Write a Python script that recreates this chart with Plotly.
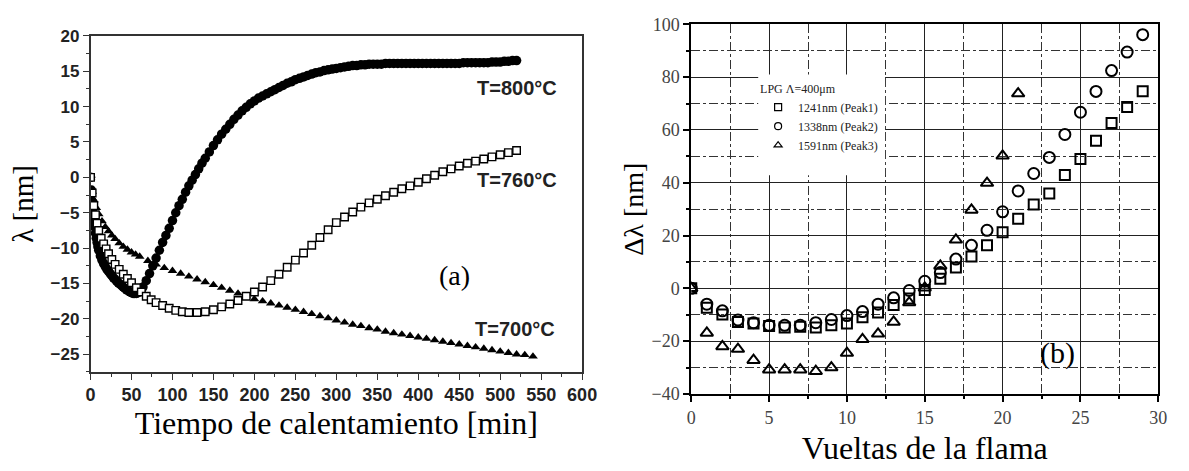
import plotly.graph_objects as go

# ---------------- Panel (a) data ----------------
t800 = [0, 1, 2, 3, 4, 5, 6, 7, 8, 9, 10, 12, 14, 16, 18, 20, 22, 24, 26, 28, 30, 32, 34, 36, 38, 40,
        42, 44, 46, 48, 50, 52, 54, 56, 58, 60, 62, 64, 68, 72, 76, 80, 84, 88, 92, 96, 100, 104, 108,
        112, 116, 120, 124, 128, 132, 136, 140, 145, 150, 155, 160, 165, 170, 175, 180, 185, 190, 195,
        200, 205, 210, 215, 220, 225, 230, 235, 240, 245, 250, 255, 260, 265, 270, 275, 280, 285, 290,
        295, 300, 305, 310, 315, 320, 325, 330, 335, 340, 345, 350, 355, 360, 365, 370, 375, 380, 385,
        390, 395, 400, 405, 410, 415, 420, 425, 430, 435, 440, 445, 450, 455, 460, 465, 470, 475, 480,
        485, 490, 495, 500, 505, 510, 515, 520]
y800 = [0, -1.8, -3.4, -4.8, -6.0, -7.0, -7.9, -8.6, -9.2, -9.8, -10.3, -11.1, -11.7, -12.2, -12.6,
        -13.0, -13.3, -13.6, -13.9, -14.2, -14.4, -14.7, -14.9, -15.1, -15.3, -15.5, -15.7, -15.9,
        -16.0, -16.2, -16.3, -16.4, -16.4, -16.4, -16.3, -16.1, -15.8, -15.5, -14.6, -13.6, -12.5,
        -11.4, -10.3, -9.2, -8.2, -7.2, -6.1, -5.0, -4.0, -3.1, -2.1, -1.2, -0.4, 0.4, 1.2, 2.0, 2.7,
        3.6, 4.5, 5.3, 6.1, 6.8, 7.5, 8.2, 8.8, 9.4, 9.9, 10.4, 10.8, 11.2, 11.5, 11.8, 12.1, 12.4,
        12.7, 13.0, 13.3, 13.5, 13.8, 14.0, 14.2, 14.4, 14.6, 14.8, 14.9, 15.1, 15.2, 15.3, 15.4, 15.5,
        15.6, 15.7, 15.8, 15.8, 15.9, 15.9, 16.0, 16.0, 16.0, 16.0, 16.1, 16.1, 16.1, 16.1, 16.1, 16.1,
        16.1, 16.1, 16.1, 16.1, 16.1, 16.1, 16.1, 16.1, 16.1, 16.1, 16.1, 16.1, 16.1, 16.2, 16.2, 16.2,
        16.2, 16.2, 16.2, 16.2, 16.3, 16.3, 16.3, 16.4, 16.4, 16.5, 16.5]

t760 = [0, 2, 4, 6, 8, 10, 13, 16, 19, 22, 26, 30, 35, 40, 45, 50, 56, 62, 68, 74, 80, 88, 96, 104,
        112, 120, 130, 140, 150, 160, 170, 180, 190, 200, 210, 220, 230, 240, 250, 260, 270, 280, 290,
        300, 310, 320, 330, 340, 350, 360, 370, 380, 390, 400, 410, 420, 430, 440, 450, 460, 470, 480,
        490, 500, 510, 520]
y760 = [0, -2.2, -4.0, -5.3, -6.5, -7.5, -8.6, -9.4, -10.1, -10.8, -11.6, -12.3, -13.0, -13.7, -14.3,
        -14.9, -15.6, -16.2, -16.8, -17.3, -17.7, -18.1, -18.5, -18.8, -19.0, -19.1, -19.1, -19.0,
        -18.7, -18.3, -17.9, -17.4, -16.8, -16.2, -15.5, -14.6, -13.7, -12.7, -11.7, -10.7, -9.6,
        -8.5, -7.4, -6.4, -5.6, -4.9, -4.2, -3.6, -3.1, -2.6, -2.1, -1.6, -1.2, -0.7, -0.2, 0.3, 0.8,
        1.2, 1.6, 2.0, 2.3, 2.6, 2.9, 3.2, 3.5, 3.8]

t700 = [0, 2, 4, 7, 10, 14, 18, 22, 26, 30, 35, 40, 45, 50, 55, 60, 70, 80, 90, 100, 110, 120, 130,
        140, 150, 160, 170, 180, 190, 200, 210, 220, 230, 240, 250, 260, 270, 280, 290, 300, 310, 320,
        330, 340, 350, 360, 370, 380, 390, 400, 410, 420, 430, 440, 450, 460, 470, 480, 490, 500, 510,
        520, 530, 540]
y700 = [0, -2.0, -3.2, -4.3, -5.2, -6.2, -7.0, -7.6, -8.2, -8.7, -9.3, -9.8, -10.2, -10.6, -10.9,
        -11.2, -11.8, -12.3, -12.8, -13.2, -13.6, -14.0, -14.4, -14.8, -15.2, -15.6, -16.0, -16.4,
        -16.8, -17.2, -17.5, -17.8, -18.1, -18.4, -18.7, -19.0, -19.3, -19.6, -19.9, -20.2, -20.5,
        -20.8, -21.0, -21.3, -21.5, -21.8, -22.0, -22.2, -22.4, -22.6, -22.8, -23.0, -23.2, -23.4,
        -23.6, -23.8, -24.0, -24.2, -24.4, -24.6, -24.8, -25.0, -25.1, -25.3]

labels_a = ["T=800°C", "T=760°C", "T=700°C"]

# ---------------- Panel (b) data ----------------
vueltas = list(range(0, 30))
peak1 = [0, -7.3, -9.9, -12.7, -13.3, -14.3, -14.8, -14.5, -14.8, -14.0, -13.3, -10.9, -9.1, -6.3,
         -3.8, -0.6, 3.6, 7.9, 12.1, 16.3, 21.3, 26.4, 31.8, 35.9, 42.9, 49.0, 55.9, 62.6, 68.7, 74.7]
peak2 = [0, -6.0, -8.5, -12.0, -13.0, -14.0, -14.0, -14.0, -13.0, -11.8, -10.3, -8.8, -6.0, -3.6,
         -0.8, 2.7, 6.0, 11.1, 16.3, 22.0, 29.0, 36.9, 43.5, 49.6, 58.3, 66.7, 74.6, 82.5, 89.5, 96.1]
vueltas3 = list(range(0, 22))
peak3 = [0, -16.9, -22.0, -23.0, -27.2, -30.8, -30.8, -30.8, -31.4, -30.0, -24.5, -19.3, -17.2,
         -12.7, -5.4, 0.2, 8.5, 18.4, 29.7, 39.9, 50.2, 73.8]
legend_names = ["1241nm (Peak1)", "1338nm (Peak2)", "1591nm (Peak3)"]
legend_title = "LPG Λ=400μm"

SERIF = "Liberation Serif, Times New Roman, serif"
SANS = "Liberation Sans, Arial, sans-serif"
W, H = 1189, 471

fig = go.Figure()

# panel (a)
fig.add_trace(go.Scatter(x=t800, y=y800, mode="markers", xaxis="x", yaxis="y", showlegend=False,
                         marker=dict(symbol="circle", size=9.5, color="black", line=dict(width=0))))
fig.add_trace(go.Scatter(x=t700, y=y700, mode="markers", xaxis="x", yaxis="y", showlegend=False,
                         marker=dict(symbol="triangle-up", size=8.5, color="black", line=dict(width=0))))
fig.add_trace(go.Scatter(x=t760, y=y760, mode="markers", xaxis="x", yaxis="y", showlegend=False,
                         marker=dict(symbol="square", size=7.5, color="white",
                                     line=dict(width=1.4, color="black"))))

# panel (b)
symbols_b = ["square-open", "circle-open", "triangle-up-open"]
sizes_b = [10, 11, 11]
for xs, ys, sym, sz in zip([vueltas, vueltas, vueltas3], [peak1, peak2, peak3], symbols_b, sizes_b):
    fig.add_trace(go.Scatter(x=xs, y=ys, mode="markers", xaxis="x2", yaxis="y2", showlegend=False,
                             marker=dict(symbol=sym, size=sz, color="black", line=dict(width=2))))
# legend entries (legend-only, smaller glyphs like the original inset)
for name, sym in zip(legend_names, symbols_b):
    fig.add_trace(go.Scatter(x=[None], y=[None], mode="markers", xaxis="x2", yaxis="y2", name=name,
                             marker=dict(symbol=sym, size=7, color="black", line=dict(width=1.2))))

# white inset box covering grid behind the legend
fig.add_shape(type="rect", xref="x2", yref="y2", x0=4.3, x1=12.45, y0=42.8, y1=81,
              fillcolor="white", line=dict(width=0), layer="above")

axis_a = dict(showline=True, linecolor="#333", linewidth=1.5, mirror=True, showgrid=False,
              zeroline=False, ticks="outside", ticklen=6, tickwidth=1.3, tickcolor="#333")

fig.update_layout(
    width=W, height=H, margin=dict(l=0, r=0, t=0, b=0),
    paper_bgcolor="white", plot_bgcolor="white",
    xaxis=dict(axis_a, domain=[87 / W, 587 / W], range=[0, 600], dtick=50, anchor="y",
               tickfont=dict(family=SANS, size=18, color="#222", weight="bold"),
               minor=dict(dtick=25, ticks="outside", ticklen=3, tickcolor="#333"),
               title=dict(text="Tiempo de calentamiento [min]", standoff=6,
                          font=dict(family=SERIF, size=32, color="black"))),
    yaxis=dict(axis_a, domain=[1 - 378 / H, 1 - 27 / H], range=[-27.5, 20], dtick=5, anchor="x",
               tickfont=dict(family=SANS, size=17, color="#222", weight="bold"),
               minor=dict(dtick=2.5, ticks="outside", ticklen=3, tickcolor="#333"),
               title=dict(text="λ [nm]", standoff=8,
                          font=dict(family=SERIF, size=29, color="black"))),
    xaxis2=dict(domain=[698 / W, 1173 / W], range=[0, 30], dtick=5, anchor="y2",
                showline=True, linecolor="black", linewidth=2, mirror=True, zeroline=False,
                ticks="outside", ticklen=6, tickwidth=1.5, tickcolor="black",
                showgrid=True, gridcolor="#222", gridwidth=1,
                minor=dict(dtick=2.5, ticks="outside", ticklen=3, tickcolor="black",
                           showgrid=True, gridcolor="#333", griddash="dashdot", gridwidth=1),
                tickfont=dict(family=SERIF, size=18, color="#444"),
                title=dict(text="Vueltas de la flama", standoff=10,
                           font=dict(family=SERIF, size=32, color="black"))),
    yaxis2=dict(domain=[1 - 401 / H, 1 - 15 / H], range=[-40, 100], dtick=20, anchor="x2",
                showline=True, linecolor="black", linewidth=2, mirror=True, zeroline=False,
                ticks="outside", ticklen=6, tickwidth=1.5, tickcolor="black",
                showgrid=True, gridcolor="#222", gridwidth=1,
                minor=dict(dtick=10, ticks="outside", ticklen=3, tickcolor="black",
                           showgrid=True, gridcolor="#333", griddash="dashdot", gridwidth=1),
                tickfont=dict(family=SERIF, size=18, color="#444"),
                title=dict(text="Δλ [nm]", standoff=0,
                           font=dict(family=SERIF, size=28, color="black"))),
    legend=dict(x=766 / W, y=1 - 70 / H, xanchor="left", yanchor="top",
                bgcolor="rgba(255,255,255,0)", borderwidth=0,
                font=dict(family=SERIF, size=12, color="#222"),
                title=dict(text=legend_title, font=dict(family=SERIF, size=12, color="#222")),
                tracegroupgap=0),
)

# panel annotations
ann_font = dict(family=SANS, size=20, color="#222", weight="bold")
for txt, xx, yy in zip(labels_a, [520, 521, 518], [12.7, -0.4, -21.4]):
    fig.add_annotation(x=xx, y=yy, xref="x", yref="y", text=txt, showarrow=False, font=ann_font)
fig.add_annotation(x=444, y=-13.9, xref="x", yref="y", text="(a)", showarrow=False,
                   font=dict(family=SERIF, size=28, color="black"))
fig.add_annotation(x=23.5, y=-24.3, xref="x2", yref="y2", text="(b)", showarrow=False,
                   font=dict(family=SERIF, size=30, color="black"))

fig.write_html("out.html")
